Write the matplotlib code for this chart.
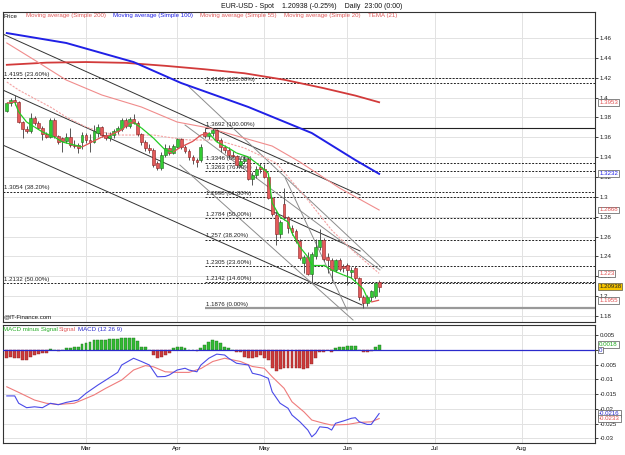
import matplotlib
matplotlib.use("Agg")
import matplotlib.pyplot as plt
from matplotlib.collections import LineCollection

# ---------------- data ----------------
month_labels = ["Mar", "Apr", "May", "Jun", "Jul", "Aug"]
month_index = [20, 43, 65, 86, 108, 130]

opens = [1.3865, 1.3950, 1.3975, 1.3955, 1.3750, 1.3680, 1.3660, 1.3790, 1.3745, 1.3695,
         1.3630, 1.3605, 1.3775, 1.3610, 1.3590, 1.3560, 1.3600, 1.3525, 1.3520, 1.3550,
         1.3625, 1.3570, 1.3555, 1.3640, 1.3700, 1.3625, 1.3590, 1.3625, 1.3660, 1.3680,
         1.3775, 1.3710, 1.3785, 1.3745, 1.3630, 1.3555, 1.3490, 1.3470, 1.3340, 1.3290,
         1.3420, 1.3495, 1.3445, 1.3500, 1.3580, 1.3505, 1.3465, 1.3400, 1.3370, 1.3370,
         1.3650, 1.3615, 1.3645, 1.3675, 1.3575, 1.3505, 1.3475, 1.3420, 1.3410, 1.3320,
         1.3365, 1.3380, 1.3185, 1.3220, 1.3300, 1.3285, 1.3205, 1.2990, 1.2820, 1.2630,
         1.2930, 1.2800, 1.2685, 1.2660, 1.2560, 1.2330, 1.2390, 1.2220, 1.2400, 1.2500,
         1.2570, 1.2395, 1.2365, 1.2265, 1.2360, 1.2300, 1.2310, 1.2240, 1.2280, 1.2180,
         1.1990, 1.1935, 1.1995, 1.2000, 1.2140]
highs = [1.3960, 1.3995, 1.4030, 1.3965, 1.3760, 1.3710, 1.3840, 1.3815, 1.3765, 1.3710,
         1.3655, 1.3790, 1.3795, 1.3625, 1.3600, 1.3640, 1.3690, 1.3570, 1.3545, 1.3650,
         1.3640, 1.3630, 1.3720, 1.3730, 1.3715, 1.3650, 1.3650, 1.3680, 1.3710, 1.3790,
         1.3790, 1.3805, 1.3830, 1.3760, 1.3645, 1.3570, 1.3530, 1.3490, 1.3360, 1.3450,
         1.3530, 1.3520, 1.3530, 1.3590, 1.3595, 1.3520, 1.3480, 1.3420, 1.3390, 1.3530,
         1.3692, 1.3655, 1.3690, 1.3685, 1.3590, 1.3520, 1.3500, 1.3460, 1.3420, 1.3390,
         1.3410, 1.3400, 1.3250, 1.3310, 1.3340, 1.3330, 1.3215, 1.3000, 1.2860, 1.2770,
         1.3094, 1.2810, 1.2720, 1.2680, 1.2580, 1.2410, 1.2440, 1.2440, 1.2580, 1.2674,
         1.2590, 1.2430, 1.2380, 1.2370, 1.2380, 1.2320, 1.2330, 1.2290, 1.2300, 1.2190,
         1.2010, 1.2010, 1.2060, 1.2145, 1.2160]
lows = [1.3850, 1.3920, 1.3930, 1.3740, 1.3590, 1.3640, 1.3640, 1.3720, 1.3680, 1.3570,
        1.3590, 1.3595, 1.3590, 1.3530, 1.3450, 1.3545, 1.3505, 1.3490, 1.3440, 1.3480,
        1.3545, 1.3450, 1.3540, 1.3600, 1.3600, 1.3570, 1.3560, 1.3590, 1.3630, 1.3660,
        1.3690, 1.3690, 1.3730, 1.3610, 1.3520, 1.3460, 1.3440, 1.3300, 1.3270, 1.3270,
        1.3400, 1.3420, 1.3430, 1.3490, 1.3480, 1.3440, 1.3370, 1.3330, 1.3300, 1.3350,
        1.3590, 1.3585, 1.3610, 1.3550, 1.3450, 1.3440, 1.3400, 1.3390, 1.3290, 1.3300,
        1.3340, 1.3170, 1.3115, 1.3190, 1.3240, 1.3190, 1.2980, 1.2810, 1.2520, 1.2590,
        1.2770, 1.2640, 1.2620, 1.2540, 1.2360, 1.2235, 1.2210, 1.2143, 1.2370, 1.2470,
        1.2350, 1.2235, 1.2150, 1.2240, 1.2250, 1.2240, 1.2110, 1.2180, 1.2150, 1.1960,
        1.1876, 1.1900, 1.1950, 1.1980, 1.2040]
closes = [1.3950, 1.3975, 1.3955, 1.3750, 1.3680, 1.3660, 1.3790, 1.3745, 1.3695, 1.3630,
          1.3605, 1.3775, 1.3610, 1.3555, 1.3560, 1.3600, 1.3525, 1.3510, 1.3495, 1.3625,
          1.3570, 1.3555, 1.3665, 1.3700, 1.3625, 1.3590, 1.3625, 1.3660, 1.3695, 1.3775,
          1.3710, 1.3785, 1.3745, 1.3630, 1.3555, 1.3490, 1.3470, 1.3320, 1.3290, 1.3420,
          1.3495, 1.3445, 1.3510, 1.3580, 1.3505, 1.3465, 1.3400, 1.3370, 1.3355, 1.3500,
          1.3615, 1.3645, 1.3675, 1.3575, 1.3505, 1.3475, 1.3420, 1.3410, 1.3320, 1.3365,
          1.3380, 1.3185, 1.3220, 1.3280, 1.3285, 1.3205, 1.2990, 1.2830, 1.2630, 1.2750,
          1.2800, 1.2685, 1.2645, 1.2560, 1.2385, 1.2390, 1.2225, 1.2420, 1.2500, 1.2570,
          1.2375, 1.2365, 1.2265, 1.2360, 1.2270, 1.2285, 1.2265, 1.2260, 1.2180, 1.1990,
          1.1935, 1.1995, 1.2050, 1.2135, 1.20938]

sma200_idx = [0, 10, 20, 30, 40, 50, 60, 70, 80, 88, 94]
sma200_val = [1.4330, 1.4352, 1.4358, 1.4350, 1.4320, 1.4285, 1.4245, 1.4180, 1.4095, 1.4020, 1.3953]
sma100_idx = [0, 15, 32, 44, 49, 61, 77, 88, 94]
sma100_val = [1.4650, 1.4550, 1.4358, 1.4147, 1.4076, 1.3905, 1.3643, 1.3371, 1.3232]
sma55_idx = [0, 7, 15, 24, 34, 43, 51, 59, 67, 74, 84, 94]
sma55_val = [1.4550, 1.4378, 1.4177, 1.4026, 1.3905, 1.3754, 1.3694, 1.3603, 1.3512, 1.3351, 1.3089, 1.2868]
sma20_idx = [0, 3, 11, 15, 20, 24, 28, 37, 42, 46, 53, 60, 68, 76, 82, 88, 94]
sma20_val = [1.4157, 1.4076, 1.3905, 1.3804, 1.3704, 1.3653, 1.3623, 1.3623, 1.3593, 1.3573,
             1.3573, 1.3492, 1.3341, 1.2969, 1.2666, 1.2435, 1.2230]
tema_idx = [0, 2, 3, 5, 7, 9, 12, 14, 17, 19, 21, 24, 26, 29, 31, 32, 34, 37, 40, 42, 44, 47,
            49, 51, 53, 56, 58, 61, 63, 66, 67, 69, 71, 72, 74, 76, 77, 80, 82, 85, 87, 90, 91, 92, 94]
tema_val = [1.3945, 1.3955, 1.3855, 1.3754, 1.3704, 1.3654, 1.3603, 1.3553, 1.3523, 1.3503,
            1.3543, 1.3603, 1.3623, 1.3674, 1.3744, 1.3750, 1.3694, 1.3593, 1.3472, 1.3452,
            1.3503, 1.3560, 1.3623, 1.3643, 1.3553, 1.3492, 1.3442, 1.3402, 1.3341, 1.3240,
            1.2938, 1.2797, 1.2747, 1.2636, 1.2495, 1.2395, 1.2314, 1.2314, 1.2264, 1.2213,
            1.2183, 1.2072, 1.1982, 1.1941, 1.1960]

# trend lines: (index0, price0, index1, price1)
black_lines = [(-1.0, 1.4640, 89.2, 1.3019),
               (-1.0, 1.4076, 89.2, 1.2455),
               (-1.0, 1.3522, 89.7, 1.1911)]
gray_lines = [(45.5, 1.4127, 94.7, 1.2284),
              (45.0, 1.3724, 94.2, 1.2264),
              (43.7, 1.3321, 87.4, 1.1760),
              (70.3, 1.3190, 85.9, 1.1861)]

# fibonacci levels: (price, label, start index, style)
fib_levels = [(1.4195, "1.4195 (23.60%)", -1.0, "dash"),
              (1.3054, "1.3054 (38.20%)", -1.0, "dash"),
              (1.2132, "1.2132 (50.00%)", -1.0, "dash"),
              (1.4146, "1.4146 (125.00%)", 50.0, "dash"),
              (1.3692, "1.3692 (100.00%)", 50.0, "solid"),
              (1.3346, "1.3346 (80.90%)", 50.0, "dash"),
              (1.3263, "1.3263 (76.40%)", 50.0, "dash"),
              (1.2998, "1.2998 (61.80%)", 50.0, "dash"),
              (1.2784, "1.2784 (50.00%)", 50.0, "dash"),
              (1.2570, "1.257 (38.20%)", 50.0, "dash"),
              (1.2305, "1.2305 (23.60%)", 50.0, "dash"),
              (1.2142, "1.2142 (14.60%)", 50.0, "dash"),
              (1.1876, "1.1876 (0.00%)", 50.0, "gray")]

hist = [-0.0028, -0.0023, -0.0026, -0.0028, -0.0034, -0.0034, -0.0023, -0.0017, -0.0015, -0.0011,
        -0.0011, 0.0002, 0.0001, -0.0003, 0.0001, 0.0006, 0.0006, 0.0009, 0.0011, 0.0019,
        0.0023, 0.0028, 0.0034, 0.0034, 0.0034, 0.0034, 0.0036, 0.0036, 0.0037, 0.0042,
        0.0040, 0.0040, 0.0042, 0.0031, 0.0011, 0.0011, 0.0001, -0.0017, -0.0026, -0.0023,
        -0.0017, -0.0011, 0.0006, 0.0010, 0.0010, 0.0006, 0.0001, 0.0001, -0.0003, 0.0006,
        0.0017, 0.0028, 0.0034, 0.0031, 0.0023, 0.0011, 0.0006, 0.0001, -0.0008, -0.0008,
        -0.0023, -0.0026, -0.0026, -0.0023, -0.0017, -0.0028, -0.0034, -0.0062, -0.0071, -0.0065,
        -0.0062, -0.0062, -0.0060, -0.0060, -0.0062, -0.0064, -0.0060, -0.0049, -0.0028, -0.0008,
        -0.0006, -0.0001, -0.0008, 0.0006, 0.0009, 0.0011, 0.0014, 0.0014, 0.0014, 0.0001,
        -0.0008, -0.0006, -0.0003, 0.0010, 0.0018]
macd_idx = [0, 2, 3, 5, 7, 9, 11, 13, 15, 18, 20, 23, 25, 28, 29, 32, 34, 36, 38, 40, 41, 43,
            45, 46, 48, 49, 51, 53, 55, 56, 58, 61, 62, 64, 66, 67, 69, 71, 72, 74, 76, 77, 78,
            79, 81, 82, 83, 85, 87, 88, 89, 91, 92, 94]
macd_val = [-0.0156, -0.0156, -0.0181, -0.0196, -0.0193, -0.0196, -0.0181, -0.0186, -0.0178, -0.0170,
            -0.0147, -0.0119, -0.0102, -0.0076, -0.0051, -0.0028, -0.0039, -0.0051, -0.0091, -0.0090,
            -0.0085, -0.0068, -0.0062, -0.0068, -0.0074, -0.0051, -0.0028, -0.0014, -0.0017, -0.0028,
            -0.0045, -0.0051, -0.0079, -0.0085, -0.0096, -0.0142, -0.0181, -0.0198, -0.0221, -0.0244,
            -0.0272, -0.0295, -0.0283, -0.0261, -0.0264, -0.0272, -0.0249, -0.0241, -0.0232, -0.0230,
            -0.0244, -0.0253, -0.0253, -0.0216]
signal_idx = [0, 3, 7, 10, 13, 17, 19, 22, 25, 29, 32, 35, 37, 40, 43, 46, 49, 52, 55, 59, 62,
              65, 67, 70, 72, 75, 77, 80, 82, 86, 89, 92, 94]
signal_val = [-0.0125, -0.0144, -0.0170, -0.0181, -0.0185, -0.0181, -0.0170, -0.0153, -0.0130, -0.0102,
              -0.0068, -0.0053, -0.0057, -0.0074, -0.0076, -0.0076, -0.0063, -0.0039, -0.0028, -0.0039,
              -0.0056, -0.0062, -0.0091, -0.0130, -0.0176, -0.0210, -0.0238, -0.0249, -0.0255, -0.0253,
              -0.0246, -0.0244, -0.0233]

price_ticks = [1.18, 1.20, 1.22, 1.24, 1.26, 1.28, 1.30, 1.32, 1.34, 1.36, 1.38, 1.40, 1.42, 1.44, 1.46]
macd_ticks = [0.005, 0.0, -0.005, -0.01, -0.015, -0.02, -0.025, -0.03]

# ---------------- figure ----------------
W, H = 625, 455
plt.rcParams['font.family'] = ['Liberation Sans', 'DejaVu Sans']
fig = plt.figure(figsize=(W / 100, H / 100), dpi=100)
FS = 4.4


def rect(x0, y0, x1, y1):
    return [x0 / W, 1 - y1 / H, (x1 - x0) / W, (y1 - y0) / H]


ax = fig.add_axes(rect(3, 12, 595, 321.5))
axm = fig.add_axes(rect(3, 325, 595, 443))
XMIN, XMAX = -0.96, 148.5
for a in (ax, axm):
    a.set_xlim(XMIN, XMAX)
    a.yaxis.tick_right()
    a.tick_params(axis='y', labelsize=FS, length=2.5, width=0.6, pad=1, colors='#222222')
    a.tick_params(axis='x', length=0)
    a.set_xticks(month_index)
    a.grid(True, color='#e2e2e2', linewidth=0.7, zorder=0)
    a.set_axisbelow(True)
    for s in a.spines.values():
        s.set_linewidth(0.8)
        s.set_color('#333333')
ax.set_ylim(1.1745, 1.4862)
axm.set_ylim(-0.0316, 0.0085)
ax.set_xticklabels([])
axm.set_xticklabels(month_labels, fontsize=FS)
axm.tick_params(axis='x', pad=2)
ax.set_yticks(price_ticks)
ax.set_yticklabels([("%.2f" % v).rstrip('0').rstrip('.') for v in price_ticks])
axm.set_yticks(macd_ticks)
axm.set_yticklabels(["%g" % v for v in macd_ticks])

# fib lines
for price, label, start, style in fib_levels:
    if style == "solid":
        ax.hlines(price, start, XMAX, colors='#222222', linewidth=0.8, zorder=2)
    elif style == "gray":
        ax.hlines(price, start, XMAX, colors='#999999', linewidth=1.6, zorder=2)
    else:
        ax.hlines(price, start, XMAX, colors='#222222', linewidth=0.7,
                  linestyles=(0, (2, 1.5)), zorder=2)
    ax.text(start + 0.3, price + 0.0012, label, fontsize=FS, color='#222222',
            ha='left', va='bottom', zorder=6)

# trend lines
for x0, y0, x1, y1 in black_lines:
    ax.plot([x0, x1], [y0, y1], color='#333333', linewidth=0.7, zorder=3)
for x0, y0, x1, y1 in gray_lines:
    ax.plot([x0, x1], [y0, y1], color='#8c8c8c', linewidth=0.7, zorder=3)

# moving averages
ax.plot(sma200_idx, sma200_val, color='#d23a3a', linewidth=1.3, zorder=4)
ax.plot(sma100_idx, sma100_val, color='#2020e6', linewidth=1.4, zorder=4)
ax.plot(sma55_idx, sma55_val, color='#f08c8c', linewidth=0.8, zorder=4)
ax.plot(sma20_idx, sma20_val, color='#f4a3a3', linewidth=0.8, linestyle=(0, (2, 1.2)), zorder=4)

# candles
for i in range(len(opens)):
    o, h, l, c = opens[i], highs[i], lows[i], closes[i]
    up = c >= o
    ax.vlines(i, l, h, colors='#555555', linewidth=0.7, zorder=5)
    ax.bar(i, max(abs(c - o), 0.0004), bottom=min(o, c), width=0.72,
           color='#33cc33' if up else '#e35a5a',
           edgecolor='#1f6f1f' if up else '#8a2020', linewidth=0.4, zorder=6)

# TEMA coloured by direction
segs, cols = [], []
for k in range(len(tema_idx) - 1):
    segs.append([(tema_idx[k], tema_val[k]), (tema_idx[k + 1], tema_val[k + 1])])
    cols.append('#22cc22' if tema_val[k + 1] <= tema_val[k] else '#e05050')
ax.add_collection(LineCollection(segs, colors=cols, linewidths=0.9, zorder=7))

# right value boxes
ytr = ax.get_yaxis_transform()
boxes = [(sma200_val[-1], "1.3953", '#e05050', 'white'),
         (sma100_val[-1], "1.3232", '#2020e6', 'white'),
         (sma55_val[-1], "1.2868", '#e05050', 'white'),
         (sma20_val[-1], "1.223", '#e05050', 'white'),
         (closes[-1], "1.20938", '#222222', '#f5c400'),
         (1.1955, "1.1955", '#e05050', 'white')]
for yv, txt, tc, bg in boxes:
    ax.text(1.007, yv, txt, transform=ytr, fontsize=FS, color=tc, ha='left', va='center',
            bbox=dict(boxstyle='square,pad=0.15', fc=bg, ec='#555555', lw=0.5), clip_on=False, zorder=10)

# MACD
for i, v in enumerate(hist):
    axm.bar(i, v, width=0.72, color='#33bb33' if v >= 0 else '#cc3b3b',
            edgecolor='#1f6f1f' if v >= 0 else '#8a2020', linewidth=0.3, zorder=3)
axm.axhline(0, color='#2a2acc', linewidth=0.9, zorder=4)
axm.plot(signal_idx, signal_val, color='#ef7b7b', linewidth=0.8, zorder=5)
axm.plot(macd_idx, macd_val, color='#4a4ae8', linewidth=0.8, zorder=6)
ytm = axm.get_yaxis_transform()
for yv, txt, tc in [(hist[-1], "0.0018", '#22aa22'), (0.0, "0", '#2a2acc'),
                    (-0.0216, "-0.0216", '#2a2acc'), (-0.0233, "-0.0233", '#e05050')]:
    axm.text(1.007, yv, txt, transform=ytm, fontsize=FS, color=tc, ha='left', va='center',
             bbox=dict(boxstyle='square,pad=0.15', fc='white', ec='#555555', lw=0.5), clip_on=False, zorder=10)


def ftext(x, y, s, color, **kw):
    fig.text(x / W, 1 - y / H, s, color=color, fontsize=FS, ha='left', va='center', **kw)


fig.text(312 / W, 1 - 6 / H, "EUR-USD - Spot    1.20938 (-0.25%)    Daily  23:00 (0:00)",
         fontsize=5.0, ha='center', va='center', color='#111111')
leg = [(4, "Price", '#111111'), (26, "Moving average (Simple 200)", '#e05a5a'),
       (113, "Moving average (Simple 100)", '#2020e6'), (200, "Moving average (Simple 55)", '#e05a5a'),
       (284, "Moving average (Simple 20)", '#e05a5a'), (368, "TEMA (21)", '#e05a5a')]
for x, s, c in leg:
    ftext(x, 16, s, c)
ftext(4, 317, "@IT-Finance.com", '#111111')
for x, s, c in [(3, "MACD minus Signal", '#22aa22'), (59, "Signal", '#e05a5a'), (78, "MACD (12 26 9)", '#2a2acc')]:
    ftext(x, 329, s, c)

fig.savefig("out.png", dpi=100)
